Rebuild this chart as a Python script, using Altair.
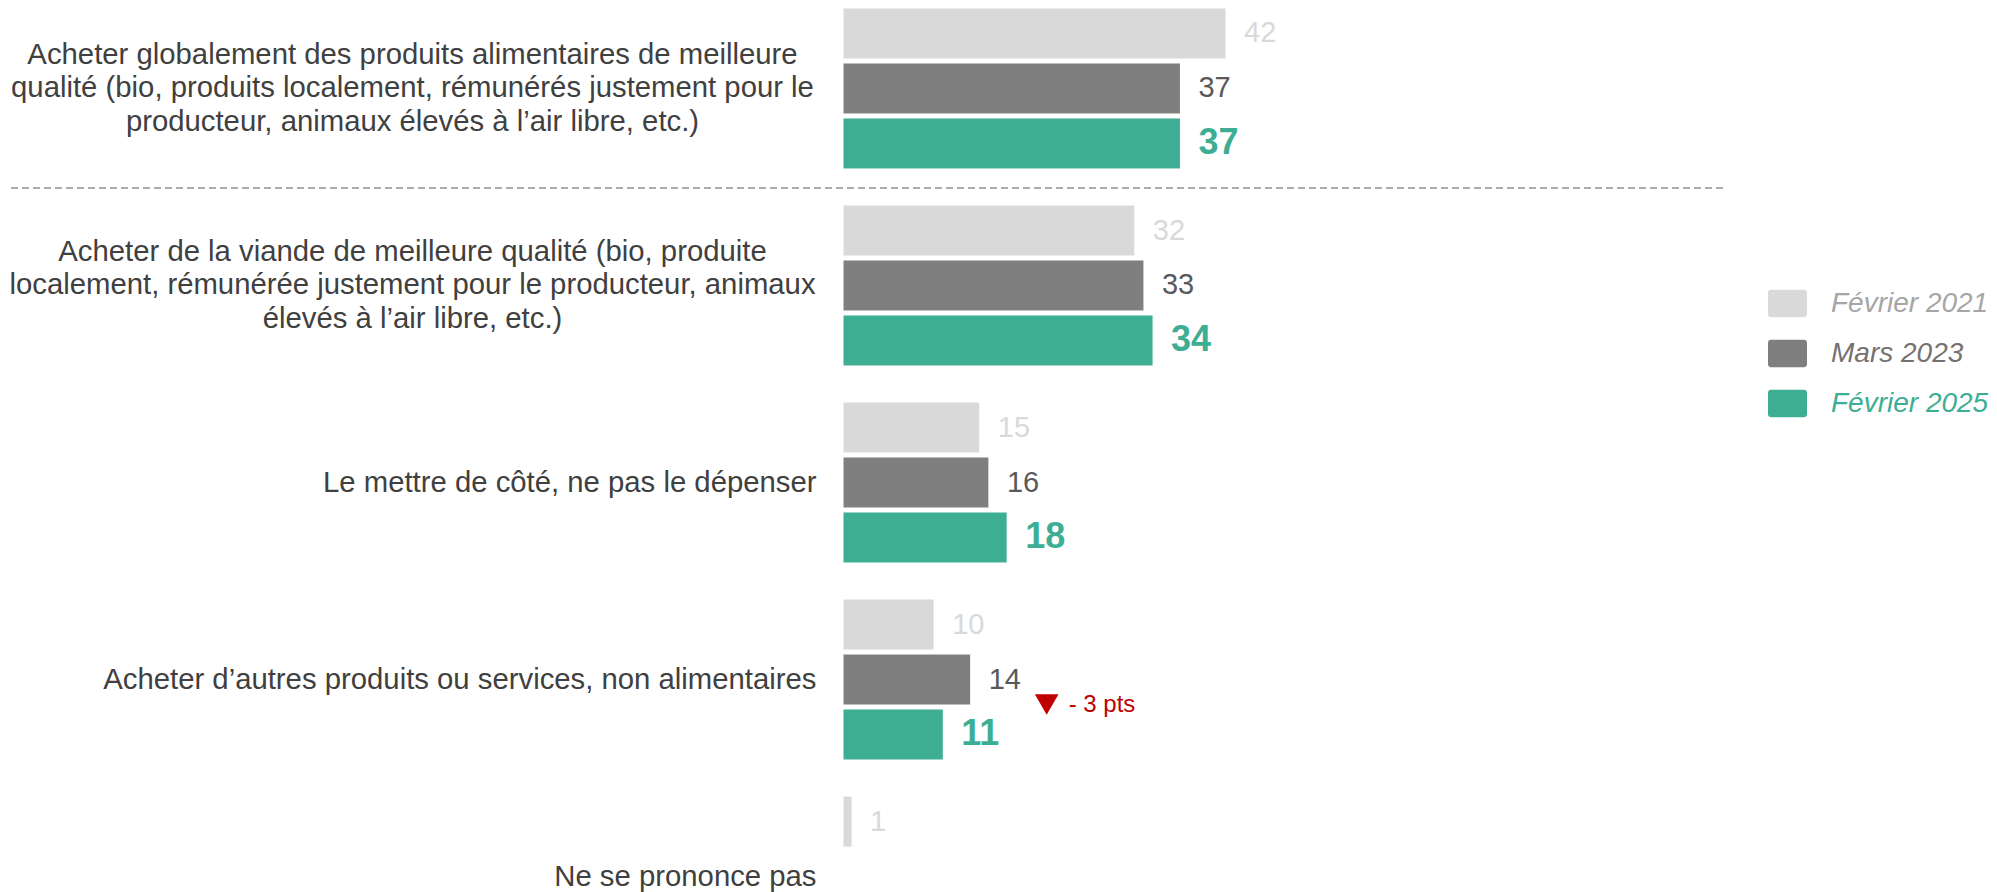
import altair as alt
import pandas as pd

# ---------------- data ----------------
categories = [
    "Acheter globalement des produits alimentaires de meilleure|qualité (bio, produits localement, rémunérés justement pour le|producteur, animaux élevés à l’air libre, etc.)",
    "Acheter de la viande de meilleure qualité (bio, produite|localement, rémunérée justement pour le producteur, animaux|élevés à l’air libre, etc.)",
    "Le mettre de côté, ne pas le dépenser",
    "Acheter d’autres produits ou services, non alimentaires",
    "Ne se prononce pas",
]
series = ["Février 2021", "Mars 2023", "Février 2025"]
values_2021 = [42, 32, 15, 10, 1]
values_2023 = [37, 33, 16, 14, None]
values_2025 = [37, 34, 18, 11, None]

annot_category = ["Acheter d’autres produits ou services, non alimentaires"]
annot_anchor = [14]
annot_text = ["- 3 pts"]

bar_colors = ["#D9D9D9", "#7F7F7F", "#3DAE94"]
legend_label_colors = ["#A6A6A6", "#767171", "#3DAE94"]

rows = []
for s, vals in zip(series, [values_2021, values_2023, values_2025]):
    for c, v in zip(categories, vals):
        if v is not None:
            rows.append({"cat": c, "serie": s, "value": v})
df = pd.DataFrame(rows)
annot = pd.DataFrame({"cat": annot_category, "anchor": annot_anchor, "txt": annot_text})
sep = pd.DataFrame({"cat": [categories[0]]})

FONT = "Liberation Sans"
W = 1146
XMAX = W / 9.12
multi = "indexof(datum.value, '|') >= 0"

y_enc = alt.Y(
    "cat:N",
    sort=categories,
    scale=alt.Scale(domain=categories, range=[0, 949], paddingInner=0.183, paddingOuter=0),
    axis=alt.Axis(
        title=None, domain=False, ticks=False, grid=False,
        labelExpr="split(datum.label, '|')",
        labelFont=FONT, labelFontSize=29.3, labelColor="#404040",
        labelLineHeight=33.5, labelLimit=0, labelBaseline="middle",
        labelAlign={"condition": {"test": multi, "value": "center"}, "value": "right"},
        labelPadding={"condition": {"test": multi, "value": 431}, "value": 27},
        labelOffset={"condition": {"test": multi, "value": -33.5}, "value": 0},
    ),
)
yoff = alt.YOffset("serie:N", sort=series,
                   scale=alt.Scale(domain=series, paddingInner=0.0727, paddingOuter=0))
x_enc = alt.X("value:Q", scale=alt.Scale(domain=[0, XMAX]), axis=None)

color_expr = ("datum.label === 'Février 2021' ? '%s' : datum.label === 'Mars 2023' ? '%s' : '%s'"
              % tuple(legend_label_colors))
legend_symbol = ("M-0.85,-0.7 H0.85 A0.15,0.15 0 0 1 1,-0.55 V0.55 A0.15,0.15 0 0 1 0.85,0.7 "
                 "H-0.85 A0.15,0.15 0 0 1 -1,0.55 V-0.55 A0.15,0.15 0 0 1 -0.85,-0.7 Z")

bars = alt.Chart(df).mark_bar(stroke="white", strokeWidth=1).encode(
    x=x_enc,
    y=y_enc,
    yOffset=yoff,
    color=alt.Color(
        "serie:N", sort=series,
        scale=alt.Scale(domain=series, range=bar_colors),
        legend=alt.Legend(
            title=None, orient="none", legendX=925, legendY=276,
            symbolType=legend_symbol, symbolSize=1521, symbolStrokeWidth=0, symbolOpacity=1,
            labelFont=FONT, labelFontSize=28, labelFontStyle="italic",
            labelColor=alt.ExprRef(color_expr),
            labelOffset=24, rowPadding=16, padding=0, labelLimit=0,
        ),
    ),
)

labels_reg = alt.Chart(df).transform_filter(
    alt.datum.serie != "Février 2025"
).mark_text(align="left", baseline="middle", dx=18, font=FONT, fontSize=29).encode(
    x=x_enc,
    y=alt.Y("cat:N", sort=categories),
    yOffset=yoff,
    text=alt.Text("value:Q"),
    color=alt.when(alt.datum.serie == "Février 2021").then(alt.value("#D9D9D9")).otherwise(alt.value("#595959")),
)

labels_bold = alt.Chart(df).transform_filter(
    alt.datum.serie == "Février 2025"
).mark_text(align="left", baseline="middle", dx=18, font=FONT, fontSize=36,
            fontWeight="bold", color="#3DAE94").encode(
    x=x_enc,
    y=alt.Y("cat:N", sort=categories),
    yOffset=yoff,
    text=alt.Text("value:Q"),
)

separator = alt.Chart(sep).mark_rule(
    color="#AFABAB", strokeWidth=2, strokeDash=[7, 4], yOffset=99.5
).encode(
    y=alt.Y("cat:N", sort=categories),
    x=alt.value(-843),
    x2=alt.value(884),
)

tri = alt.Chart(annot).mark_point(
    shape="triangle-down", filled=True, size=560, color="#C00000", opacity=1,
    xOffset=76, yOffset=25,
).encode(
    x=alt.X("anchor:Q", scale=alt.Scale(domain=[0, XMAX]), axis=None),
    y=alt.Y("cat:N", sort=categories),
)

tri_txt = alt.Chart(annot).mark_text(
    align="left", baseline="middle", dx=98, dy=25, font=FONT, fontSize=24, color="#C00000"
).encode(
    x=alt.X("anchor:Q", scale=alt.Scale(domain=[0, XMAX]), axis=None),
    y=alt.Y("cat:N", sort=categories),
    text="txt:N",
)

chart = alt.layer(bars, labels_reg, labels_bold, separator, tri, tri_txt).properties(
    width=W,
    height=884,
    autosize=alt.AutoSizeParams(type="none"),
    padding={"left": 835, "top": 0, "right": 0, "bottom": 0},
).configure(background="white").configure_view(stroke=None, strokeWidth=0)

chart.save("out.html", embed_options={"renderer": "svg", "actions": False})
